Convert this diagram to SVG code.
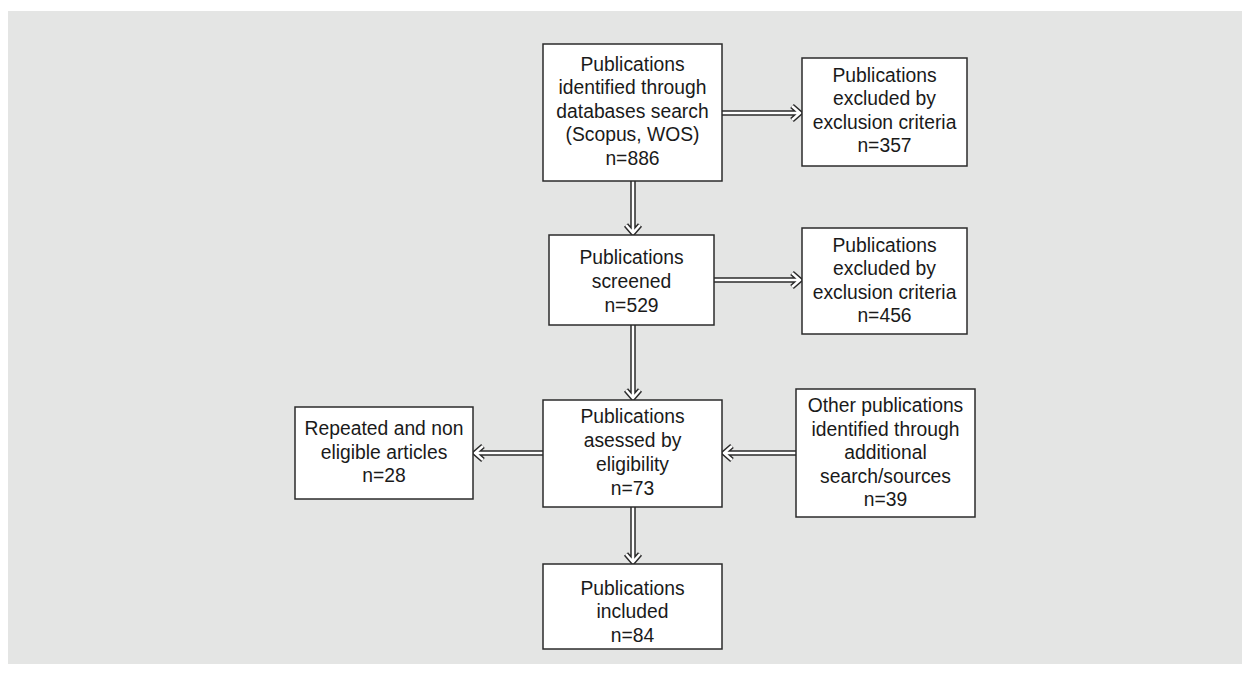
<svg xmlns="http://www.w3.org/2000/svg" width="1250" height="675" viewBox="0 0 1250 675">
<style>
.bg{fill:#e4e5e4}
.box{fill:#fff;stroke:#2b2b2b;stroke-width:1.5}
.t{font-family:"Liberation Sans",Arial,sans-serif;font-size:21px;fill:#1a1a1a;text-anchor:middle}
.ao{fill:none;stroke:#2b2b2b;stroke-width:5.5;stroke-linejoin:miter}
.ai{fill:none;stroke:#fff;stroke-width:2.5;stroke-linejoin:miter}
</style>
<rect class="bg" x="8" y="11" width="1234" height="653"/>
<g id="connectors">
  <path class="ao" d="M722 113H799M792 106L800 113L792 120"/>
  <path class="ai" d="M722 113H799M792 106L800 113L792 120"/>
  <path class="ao" d="M633 181V232M626 225L633 233L640 225"/>
  <path class="ai" d="M633 181V232M626 225L633 233L640 225"/>
  <path class="ao" d="M714 280H799M792 273L800 280L792 287"/>
  <path class="ai" d="M714 280H799M792 273L800 280L792 287"/>
  <path class="ao" d="M633 325V397M626 390L633 398L640 390"/>
  <path class="ai" d="M633 325V397M626 390L633 398L640 390"/>
  <path class="ao" d="M796 453H725M732 446L724 453L732 460"/>
  <path class="ai" d="M796 453H725M732 446L724 453L732 460"/>
  <path class="ao" d="M543 453H476M483 446L475 453L483 460"/>
  <path class="ai" d="M543 453H476M483 446L475 453L483 460"/>
  <path class="ao" d="M633 507V561M626 554L633 562L640 554"/>
  <path class="ai" d="M633 507V561M626 554L633 562L640 554"/>
</g>
<g id="n1">
  <rect class="box" x="543" y="44" width="179" height="137"/>
  <g transform="translate(632.5 0) scale(0.92 1)">
  <text class="t" x="0" y="71">Publications</text>
  <text class="t" x="0" y="94.5">identified through</text>
  <text class="t" x="0" y="118">databases search</text>
  <text class="t" x="0" y="141.5">(Scopus, WOS)</text>
  <text class="t" x="0" y="165">n=886</text>
  </g>
</g>
<g id="n2">
  <rect class="box" x="802" y="58" width="165" height="108"/>
  <g transform="translate(884.5 0) scale(0.92 1)">
  <text class="t" x="0" y="82">Publications</text>
  <text class="t" x="0" y="105.5">excluded by</text>
  <text class="t" x="0" y="129">exclusion criteria</text>
  <text class="t" x="0" y="152.5">n=357</text>
  </g>
</g>
<g id="n3">
  <rect class="box" x="549" y="235" width="165" height="90"/>
  <g transform="translate(631.5 0) scale(0.92 1)">
  <text class="t" x="0" y="264">Publications</text>
  <text class="t" x="0" y="288">screened</text>
  <text class="t" x="0" y="312">n=529</text>
  </g>
</g>
<g id="n4">
  <rect class="box" x="802" y="228" width="165" height="106"/>
  <g transform="translate(884.5 0) scale(0.92 1)">
  <text class="t" x="0" y="252">Publications</text>
  <text class="t" x="0" y="275.5">excluded by</text>
  <text class="t" x="0" y="299">exclusion criteria</text>
  <text class="t" x="0" y="322.5">n=456</text>
  </g>
</g>
<g id="n5">
  <rect class="box" x="295" y="407" width="178" height="92"/>
  <g transform="translate(384 0) scale(0.92 1)">
  <text class="t" x="0" y="435">Repeated and non</text>
  <text class="t" x="0" y="459">eligible articles</text>
  <text class="t" x="0" y="482.5">n=28</text>
  </g>
</g>
<g id="n6">
  <rect class="box" x="543" y="400" width="179" height="107"/>
  <g transform="translate(632.5 0) scale(0.92 1)">
  <text class="t" x="0" y="423.5">Publications</text>
  <text class="t" x="0" y="447">asessed by</text>
  <text class="t" x="0" y="471">eligibility</text>
  <text class="t" x="0" y="495">n=73</text>
  </g>
</g>
<g id="n7">
  <rect class="box" x="796" y="389" width="179" height="128"/>
  <g transform="translate(885.5 0) scale(0.92 1)">
  <text class="t" x="0" y="412">Other publications</text>
  <text class="t" x="0" y="436">identified through</text>
  <text class="t" x="0" y="459.5">additional</text>
  <text class="t" x="0" y="483">search/sources</text>
  <text class="t" x="0" y="506.5">n=39</text>
  </g>
</g>
<g id="n8">
  <rect class="box" x="543" y="564" width="179" height="85"/>
  <g transform="translate(632.5 0) scale(0.92 1)">
  <text class="t" x="0" y="595">Publications</text>
  <text class="t" x="0" y="618.5">included</text>
  <text class="t" x="0" y="642">n=84</text>
  </g>
</g>
</svg>
